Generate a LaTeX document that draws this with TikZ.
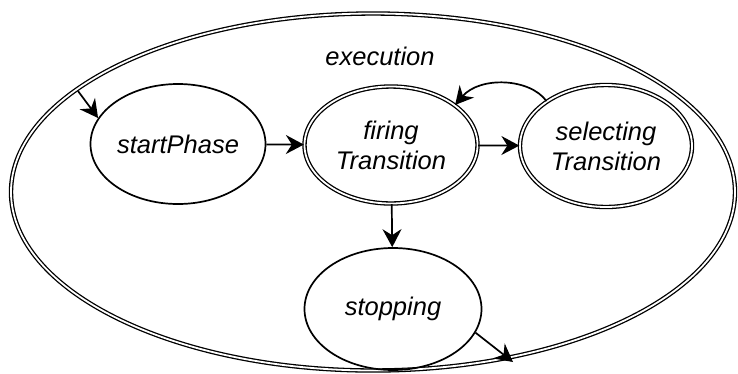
\documentclass[tikz,border=0pt]{standalone}
\usepackage{fontspec}
\setmainfont{Liberation Sans}
\usetikzlibrary{shapes.geometric,arrows.meta}
\begin{document}
\begin{tikzpicture}[x=1pt,y=-1pt,
  every node/.style={font=\fontsize{25.5}{30}\selectfont\itshape, align=center},
  st/.style={ellipse, draw, line width=1.7pt, inner sep=0pt, minimum width=#1, minimum height=120pt},
  dst/.style={st=#1, double, double distance=1.8pt, line width=1.3pt},
  arr/.style={line width=1.7pt, -{Stealth[length=18pt,width=19pt,inset=6pt]}}]
\useasboundingbox (0,0) rectangle (738,373);
\node[ellipse, draw, double, double distance=1.8pt, line width=1.3pt, inner sep=0pt,
  minimum width=724pt, minimum height=357pt] (exec) at (373,192) {};
\node (lbl) at (380,56) {execution};
\node[st=175pt] (sp) at (178,144) {startPhase};
\node[dst=173pt, minimum height=117pt] (fir) at (391,145) {firing\\Transition};
\node[dst=172pt, minimum height=122pt] (sel) at (606,146) {selecting\\Transition};
\node[st=177pt, minimum height=122pt] (stop) at (393,309) {stopping};
\coordinate (init) at (78,91);
\coordinate (fin) at (513,362);
\draw[arr] (init) -- (sp.162);
\draw[arr] (sp) -- (fir);
\draw[arr] (fir) -- (sel);
\draw[arr] (sel.143) .. controls (530,78) and (480,76) .. (fir.32);
\draw[arr] (fir) -- (stop);
\draw[arr] (stop.-16) -- (fin);
\end{tikzpicture}
\end{document}
